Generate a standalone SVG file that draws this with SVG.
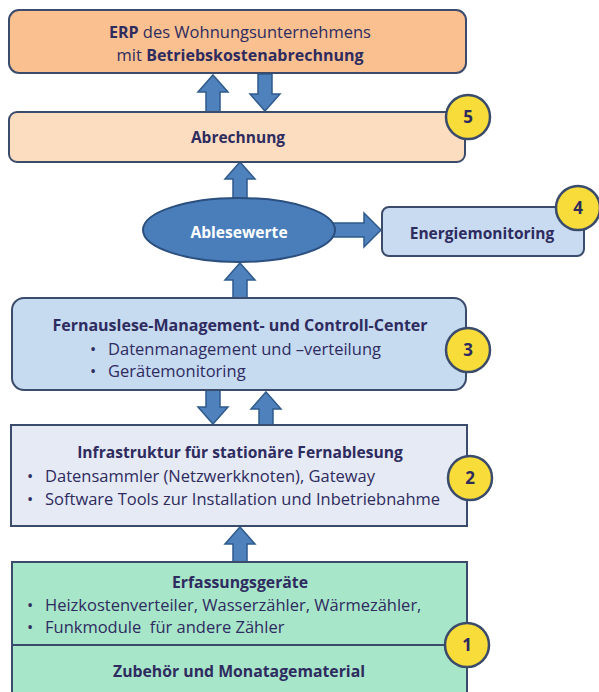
<svg xmlns="http://www.w3.org/2000/svg" width="599" height="692" viewBox="0 0 599 692">
<style>
.t{font-family:"Open Sans","Liberation Sans",sans-serif;font-size:16.5px;fill:#2E2B5F}
.b{font-weight:bold;font-size:15.8px}
.c{text-anchor:middle}
.box{stroke:#3B4B6B;stroke-width:2}
.arr{fill:#4F81BD;stroke:#2F5B8C;stroke-width:1.5}
.num{fill:#F8DC3A;stroke:#3B4B6B;stroke-width:2.5}
.nt{font-family:"Open Sans","Liberation Sans",sans-serif;font-size:17px;font-weight:bold;fill:#2E2B5F;text-anchor:middle}
</style>
<rect width="599" height="692" fill="#FFFFFF"/>
<g id="connectors">
<polygon class="arr" points="213,75 228,92 220,92 220,112 206,112 206,92 198,92"/>
<polygon class="arr" points="265,111 280,94 272,94 272,74 258,74 258,94 250,94"/>
<polygon class="arr" points="240,162 255,179 247,179 247,199 233,199 233,179 225,179"/>
<polygon class="arr" points="240,263 255,280 247,280 247,298 233,298 233,280 225,280"/>
<polygon class="arr" points="381,230 364,213 364,223 330,223 330,237 364,237 364,247"/>
<polygon class="arr" points="213,424 228,407 220,407 220,390 206,390 206,407 198,407"/>
<polygon class="arr" points="266,392 281,409 273,409 273,425 259,425 259,409 251,409"/>
<polygon class="arr" points="240,527 255,544 247,544 247,562 233,562 233,544 225,544"/>
</g>
<g id="erp">
<rect class="box" x="9" y="10" width="457" height="63" rx="10" fill="#FAC090"/>
<text class="t c" x="240" y="38"><tspan class="b" style="font-size:16px">ERP</tspan> des Wohnungsunternehmens</text>
<text class="t c" x="240" y="61">mit <tspan class="b" style="font-size:16px">Betriebskostenabrechnung</tspan></text>
</g>
<g id="abrechnung">
<rect class="box" x="9" y="112" width="456" height="50" rx="8" fill="#FDDDBF"/>
<text class="t b c" x="238" y="143" style="font-size:15.5px">Abrechnung</text>
<circle class="num" cx="468" cy="117" r="22"/>
<text class="nt" x="468" y="123">5</text>
</g>
<g id="ablesewerte">
<ellipse cx="239" cy="230" rx="96" ry="32" fill="#4A7EBB" stroke="#2B4F7E" stroke-width="2"/>
<text class="t b c" x="239" y="238" style="fill:#FFFFFF;font-size:15.6px">Ablesewerte</text>
</g>
<g id="energiemonitoring">
<rect class="box" x="382" y="207" width="202" height="49" rx="7" fill="#C8DBF1"/>
<text class="t b c" x="482" y="239" style="font-size:15.5px">Energiemonitoring</text>
<circle class="num" cx="578" cy="208" r="22"/>
<text class="nt" x="578" y="214">4</text>
</g>
<g id="fernauslese">
<rect class="box" x="12" y="298" width="454" height="92" rx="12" fill="#C6DAF0"/>
<text class="t b c" x="240" y="331" style="font-size:16px">Fernauslese-Management- und Controll-Center</text>
<text class="t" x="90" y="355">•</text>
<text class="t" x="108" y="355">Datenmanagement und –verteilung</text>
<text class="t" x="90" y="377">•</text>
<text class="t" x="108" y="377">Gerätemonitoring</text>
<circle class="num" cx="468" cy="350" r="22"/>
<text class="nt" x="468" y="356">3</text>
</g>
<g id="infrastruktur">
<rect class="box" x="11" y="425" width="456" height="101" fill="#E5EAF4"/>
<text class="t b c" x="240" y="458" style="font-size:15.6px">Infrastruktur für stationäre Fernablesung</text>
<text class="t" x="27" y="482">•</text>
<text class="t" x="45" y="482">Datensammler (Netzwerkknoten), Gateway</text>
<text class="t" x="27" y="505">•</text>
<text class="t" x="45" y="505">Software Tools zur Installation und Inbetriebnahme</text>
<circle class="num" cx="470" cy="478" r="22"/>
<text class="nt" x="470" y="484">2</text>
</g>
<g id="erfassung">
<rect class="box" x="12" y="562" width="455" height="140" fill="#A8E6CA"/>
<line class="box" x1="12" y1="645" x2="467" y2="645"/>
<text class="t b c" x="240" y="588">Erfassungsgeräte</text>
<text class="t" x="27" y="611">•</text>
<text class="t" x="45" y="611">Heizkostenverteiler, Wasserzähler, Wärmezähler,</text>
<text class="t" x="27" y="633">•</text>
<text class="t" x="45" y="633" xml:space="preserve">Funkmodule  für andere Zähler</text>
<text class="t b c" x="239" y="677">Zubehör und Monatagematerial</text>
<circle class="num" cx="467" cy="645" r="22"/>
<text class="nt" x="467" y="651">1</text>
</g>
</svg>
